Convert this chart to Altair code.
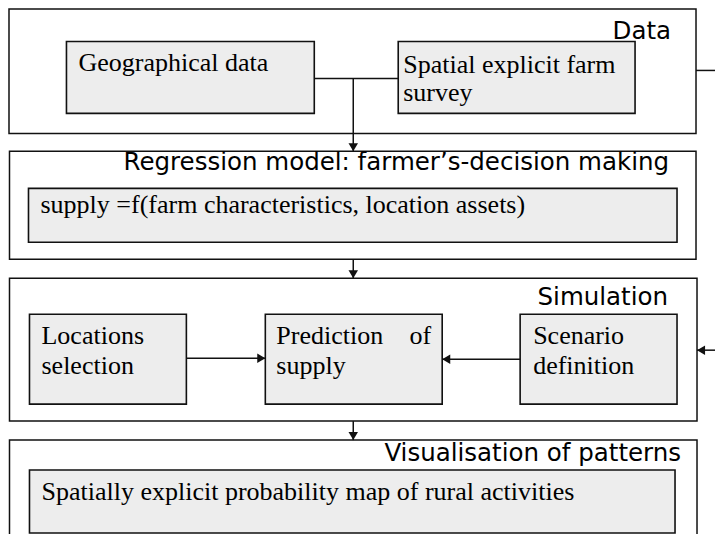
import altair as alt
import pandas as pd

# ---- outer panels (image pixel coordinates) ----
panel_x1 = [6.5, 7, 7, 7]
panel_x2 = [694, 694, 695, 695]
panel_y1 = [7.5, 150, 277, 439]
panel_y2 = [132, 258, 420, 560]

# ---- inner grey boxes ----
box_x1 = [64, 396, 26, 27, 263, 518, 27]
box_x2 = [312, 633, 675, 184, 440, 675, 673]
box_y1 = [40, 40, 187, 313, 313, 313, 469]
box_y2 = [112, 112, 241, 403, 403, 403, 532]

# ---- connector segments ----
seg_x1 = [312, 351, 351, 351, 694, 723, 184, 518]
seg_y1 = [77, 77, 258, 420, 69, 349, 357, 358]
seg_x2 = [396, 351, 351, 351, 723, 695, 263, 440]
seg_y2 = [77, 150, 277, 439, 69, 349, 357, 358]

# ---- arrow heads (tip positions) ----
arrow_x = [351, 351, 351, 695, 263, 440]
arrow_y = [150, 277, 439, 349, 357, 358]
arrow_dir = ["down", "down", "down", "left", "right", "left"]

# ---- panel titles (right aligned) ----
title_text = ["Data", "Regression model: farmer\u2019s-decision making",
              "Simulation", "Visualisation of patterns"]
title_x = [669, 667, 666, 679]
title_y = [38, 169, 304, 460]

# ---- box labels (left aligned) ----
label_text = ["Geographical data", "Spatial explicit farm", "survey",
              "supply =f(farm characteristics, location assets)",
              "Locations", "selection", "Prediction", "supply",
              "Scenario", "definition",
              "Spatially explicit probability map of rural activities"]
label_x = [76, 401, 401, 38, 39, 39, 274, 274, 531, 531, 39]
label_y = [70, 72, 100, 212, 343, 373, 343, 373, 343, 373, 499]

# right-aligned label parts
rlabel_text = ["of"]
rlabel_x = [429]
rlabel_y = [343]

paths = {
    "down": "M0,0L-1,-1.7L1,-1.7Z",
    "left": "M0,0L1.7,-1L1.7,1Z",
    "right": "M0,0L-1.7,-1L-1.7,1Z",
}

xs = alt.Scale(domain=[5.5, 713], nice=False, zero=False)
ys = alt.Scale(domain=[6.5, 533], nice=False, zero=False, reverse=True)

panels = pd.DataFrame({"x1": panel_x1, "x2": panel_x2, "y1": panel_y1, "y2": panel_y2})
boxes = pd.DataFrame({"x1": box_x1, "x2": box_x2, "y1": box_y1, "y2": box_y2})
segs = pd.DataFrame({"x1": seg_x1, "x2": seg_x2, "y1": seg_y1, "y2": seg_y2})
arrows = pd.DataFrame({"x": arrow_x, "y": arrow_y,
                       "shape": [paths[d] for d in arrow_dir]})
titles = pd.DataFrame({"x": title_x, "y": title_y, "t": title_text})
labels = pd.DataFrame({"x": label_x, "y": label_y, "t": label_text})
rlabels = pd.DataFrame({"x": rlabel_x, "y": rlabel_y, "t": rlabel_text})

X = lambda f: alt.X(f, scale=xs, axis=None)
Y = lambda f: alt.Y(f, scale=ys, axis=None)

panel_layer = alt.Chart(panels).mark_rect(
    fill="white", stroke="#111111", strokeWidth=1.5
).encode(x=X("x1:Q"), x2="x2:Q", y=Y("y1:Q"), y2="y2:Q")

box_layer = alt.Chart(boxes).mark_rect(
    fill="#ededed", stroke="#111111", strokeWidth=1.6
).encode(x=X("x1:Q"), x2="x2:Q", y=Y("y1:Q"), y2="y2:Q")

seg_layer = alt.Chart(segs).mark_rule(
    color="#111111", strokeWidth=1.5
).encode(x=X("x1:Q"), x2="x2:Q", y=Y("y1:Q"), y2="y2:Q")

arrow_layer = alt.Chart(arrows).mark_point(
    filled=True, color="#111111", opacity=1, size=90, strokeWidth=0
).encode(x=X("x:Q"), y=Y("y:Q"), shape=alt.Shape("shape:N", scale=None, legend=None))

title_layer = alt.Chart(titles).mark_text(
    align="right", baseline="alphabetic", font="DejaVu Sans",
    fontSize=24.5, color="#000000"
).encode(x=X("x:Q"), y=Y("y:Q"), text="t:N")

label_layer = alt.Chart(labels).mark_text(
    align="left", baseline="alphabetic", font="Liberation Serif",
    fontSize=26, color="#000000"
).encode(x=X("x:Q"), y=Y("y:Q"), text="t:N")

rlabel_layer = alt.Chart(rlabels).mark_text(
    align="right", baseline="alphabetic", font="Liberation Serif",
    fontSize=26, color="#000000"
).encode(x=X("x:Q"), y=Y("y:Q"), text="t:N")

chart = alt.layer(
    panel_layer, box_layer, seg_layer, arrow_layer,
    title_layer, label_layer, rlabel_layer
).properties(
    width=707, height=526, padding=0,
    autosize=alt.AutoSizeParams(type="none"),
    background="white"
).configure_view(stroke=None)

chart.save("out.html", embed_options={"renderer": "svg", "actions": False})
